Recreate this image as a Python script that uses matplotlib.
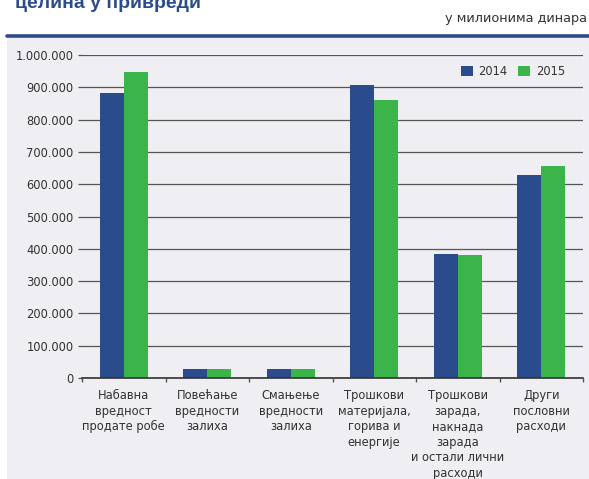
import numpy as np
import matplotlib
matplotlib.use('Agg')
import matplotlib.pyplot as plt
from matplotlib.patches import Rectangle
from matplotlib.lines import Line2D

categories = ['Набавна\nвредност\nпродате робе',
              'Повећање\nвредности\nзалиха',
              'Смањење\nвредности\nзалиха',
              'Трошкови\nматеријала,\nгорива и\nенергије',
              'Трошкови\nзарада,\nнакнада\nзарада\nи остали лични\nрасходи',
              'Други\nпословни\nрасходи']
values_2014 = [882000, 29000, 29000, 906000, 384000, 628000]
values_2015 = [947000, 29000, 29000, 860000, 381000, 656000]
years = ['2014', '2015']
yticks = np.arange(0, 1000001, 100000)

BLUE = '#2b4c8c'
GREEN = '#3bb54a'
PANEL = '#eeeef3'
TEXT = '#333333'
GRID = '#555555'

W, H = 589, 479
fig = plt.figure(figsize=(W / 100, H / 100), dpi=100)
fig.patch.set_facecolor('white')

def fx(px):
    return px / W

def fy(py):
    return 1 - py / H

# panel background and blue rule
fig.patches.append(Rectangle((fx(7), 0), 1 - fx(7), fy(38), transform=fig.transFigure,
                             facecolor=PANEL, edgecolor='none', zorder=-5))
fig.lines.append(Line2D([fx(7), 1.01], [fy(35.5), fy(35.5)], transform=fig.transFigure,
                        color=BLUE, lw=2.6, solid_capstyle='round', zorder=-4))

# title (cut off at top) and unit note
fig.text(fx(15), fy(7.5), 'целина у привреди', family='Liberation Sans', weight='bold',
         fontsize=14, color=BLUE, ha='left', va='baseline')
fig.text(fx(445), fy(22), 'у милионима динара', fontsize=9.3, color=TEXT,
         ha='left', va='baseline')

ax = fig.add_axes([fx(82), fy(378), fx(583) - fx(82), (378 - 55) / H])
ax.set_facecolor('none')

x = np.arange(len(categories))
w = 0.287
ax.bar(x - w / 2, values_2014, w, color=BLUE, label=years[0], zorder=3)
ax.bar(x + w / 2, values_2015, w, color=GREEN, label=years[1], zorder=3)

ax.set_xlim(-0.5, len(categories) - 0.5)
ax.set_ylim(0, 1000000)
ax.set_yticks(yticks)
ax.set_yticklabels(['0'] + [f'{v:,}'.replace(',', '.') for v in yticks[1:]])
ax.yaxis.grid(True, color=GRID, lw=0.9, zorder=1)
ax.set_axisbelow(True)

ax.set_xticks(x)
ax.set_xticklabels(categories, linespacing=1.25)
ax.set_xticks(np.arange(-0.5, len(categories)), minor=True)
ax.tick_params(axis='x', which='major', length=0, pad=8, labelsize=8.3, labelcolor=TEXT)
ax.tick_params(axis='x', which='minor', length=3, width=1, color=GRID, direction='out')
ax.tick_params(axis='y', length=3, width=0.9, color=GRID, pad=3, labelsize=8.3, labelcolor=TEXT)

for s in ['top', 'right', 'left']:
    ax.spines[s].set_visible(False)
ax.spines['bottom'].set_color('#333333')
ax.spines['bottom'].set_linewidth(1.2)
ax.spines['bottom'].set_zorder(4)

ax.legend(loc='upper right', bbox_to_anchor=(fx(565), fy(65)), bbox_transform=fig.transFigure,
          ncol=2, frameon=False, fontsize=8.3, handlelength=1.05, handleheight=1.05,
          handletextpad=0.5, columnspacing=0.9, borderaxespad=0, borderpad=0,
          labelcolor=TEXT)

fig.savefig('out.png', dpi=100)
